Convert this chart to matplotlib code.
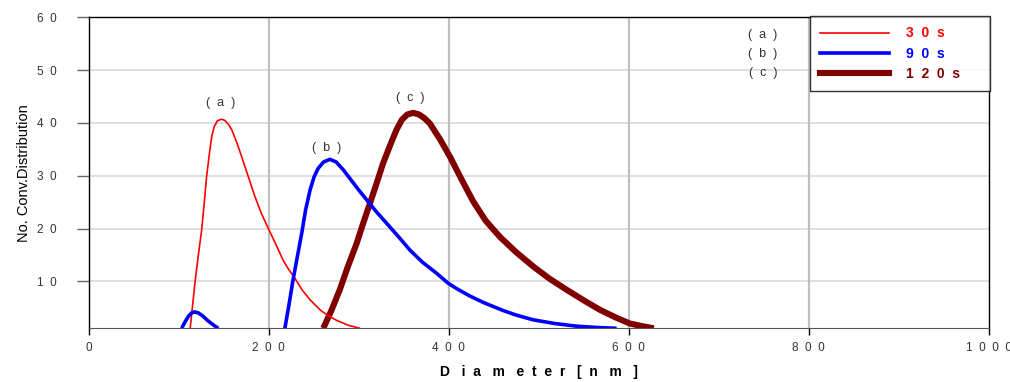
import matplotlib
matplotlib.use("Agg")
import matplotlib.pyplot as plt
from matplotlib.lines import Line2D

plt.rcParams['font.family'] = ['Liberation Sans', 'DejaVu Sans']

# Data (diameter nm, distribution)
d_30 = [112.8, 115.5, 118, 121.5, 125.5, 128.5, 131, 134, 136.7, 139.5, 143, 147.7, 151, 155, 159,
        164.5, 170, 177, 184.8, 192, 199.6, 208, 216, 222, 229, 237, 246, 257, 266, 275.5, 288, 301.4]
v_30 = [1.1, 5.5, 9.6, 14.5, 19.7, 25.0, 29.8, 34.0, 37.4, 39.3, 40.4, 40.7, 40.5, 39.8, 38.7,
        36.3, 33.6, 30.0, 26.0, 22.8, 20.0, 17.0, 14.0, 12.3, 10.6, 8.4, 6.5, 4.6, 3.5, 2.6, 1.7, 1.1]

d_90a = [103.3, 107, 111, 115, 118, 122, 127, 132, 138, 144]
v_90a = [1.1, 2.3, 3.4, 4.1, 4.2, 4.0, 3.4, 2.6, 1.8, 1.1]

d_90 = [218, 222.5, 227, 232, 236.7, 241, 246, 250.5, 255, 261, 268, 275, 283, 291, 300, 309, 320,
        331, 346, 357, 371, 386.7, 399.6, 411, 423.7, 438.4, 460, 475, 494, 518, 542, 565, 586.6]
v_90 = [1.1, 5.5, 10.2, 14.8, 19.1, 23.5, 27.3, 29.8, 31.4, 32.6, 33.1, 32.6, 31.1, 29.3, 27.3, 25.4, 23.1,
        21.0, 18.1, 15.9, 13.6, 11.5, 9.6, 8.4, 7.2, 6.0, 4.5, 3.6, 2.7, 2.0, 1.5, 1.25, 1.1]

d_120 = [260.7, 270, 279, 288, 297.8, 305, 312.6, 320, 327, 335, 342, 348, 354, 360.7, 367, 373, 379,
         390, 401.4, 414, 427, 441, 457, 475, 494, 512, 531, 550, 568, 585, 601.4, 615, 628]
v_120 = [1.1, 4.6, 8.4, 12.8, 17.2, 21.0, 24.8, 28.6, 32.3, 35.8, 38.7, 40.6, 41.6, 41.9, 41.6, 40.9, 39.9,
         37.0, 33.6, 29.4, 25.2, 21.5, 18.4, 15.5, 12.8, 10.5, 8.4, 6.4, 4.6, 3.2, 2.0, 1.5, 1.1]

x_ticks = [0, 200, 400, 600, 800, 1000]
x_tick_labels = ['0', '2  0  0', '4  0  0', '6  0  0', '8  0  0', '1  0  0  0']
y_ticks = [10, 20, 30, 40, 50, 60]
y_tick_labels = ['1  0', '2  0', '3  0', '4  0', '5  0', '6  0']
series_labels = ['3  0  s     ', '9  0  s     ', '1  2  0  s     ']
series_tags = ['(  a  )', '(  b  )', '(  c  )']
colors = ['#ff0000', '#0000ff', '#800000']
widths = [1.2, 2.6, 4.4]

fig = plt.figure(figsize=(10.10, 3.82), dpi=100)
ax = fig.add_axes([0.0878, 0.1406, 0.8911, 0.8141])
ax.set_xlim(0, 1000)
ax.set_ylim(1.1, 60)

# grid
for y in [10, 20, 30, 40, 50]:
    ax.axhline(y, color='#d9d9d9', lw=1.2, zorder=0)
for x in [200, 400, 600, 800]:
    ax.axvline(x, color='#c0c0c0', lw=1.6, zorder=0)

kw = dict(solid_joinstyle='round', solid_capstyle='butt', zorder=3)
ax.plot(d_30, v_30, color=colors[0], lw=widths[0], **kw)
ax.plot(d_90a, v_90a, color=colors[1], lw=widths[1], **kw)
ax.plot(d_90, v_90, color=colors[1], lw=widths[1], **kw)
ax.plot(d_120, v_120, color=colors[2], lw=widths[2], solid_joinstyle='round', solid_capstyle='butt', zorder=2)

ax.set_xticks(x_ticks)
ax.set_xticklabels(x_tick_labels)
ax.set_yticks(y_ticks)
ax.set_yticklabels(y_tick_labels)
ax.tick_params(axis='x', direction='out', length=5, width=1, pad=5, labelsize=8.5, labelcolor='#333333')
ax.tick_params(axis='y', direction='out', length=9, width=1, pad=14, labelsize=8.5, labelcolor='#333333', color='#666666')
ax.get_xticklabels()[-1].set_x(997)

for s in ['left', 'top', 'right']:
    ax.spines[s].set_color('black')
    ax.spines[s].set_linewidth(1.0)
ax.spines['bottom'].set_color('#555555')

ax.set_xlabel('D   i  a   m   e  t  e  r   [  n   m   ]', fontsize=10, fontweight='bold', labelpad=8)
ax.set_ylabel('No. Conv.Distribution', fontsize=10.5, labelpad=4)

# peak tags
ax.text(147, 43.8, series_tags[0], ha='center', va='center', fontsize=9, color='#333333')
ax.text(264, 35.2, series_tags[1], ha='center', va='center', fontsize=9, color='#333333')
ax.text(357, 44.7, series_tags[2], ha='center', va='center', fontsize=9, color='#333333')

handles = [Line2D([], [], color=c, lw=w) for c, w in zip(colors, widths)]
leg = ax.legend(handles, series_labels, loc='upper right', bbox_to_anchor=(1.0015, 1.004),
                borderaxespad=0, frameon=True, fancybox=False, edgecolor='black',
                prop={'weight': 'bold', 'size': 10}, handlelength=5.0, handletextpad=1.2,
                labelspacing=0.45, borderpad=0.75)
leg.get_frame().set_linewidth(1.0)
for t, c in zip(leg.get_texts(), colors):
    t.set_color(c)

# legend tags
for i, tag in enumerate(series_tags):
    fig.text(763 / 1010, 1 - (35 + 19 * i) / 382, tag, ha='center', va='center', fontsize=9, color='#333333')

fig.savefig('out.png', dpi=100)
